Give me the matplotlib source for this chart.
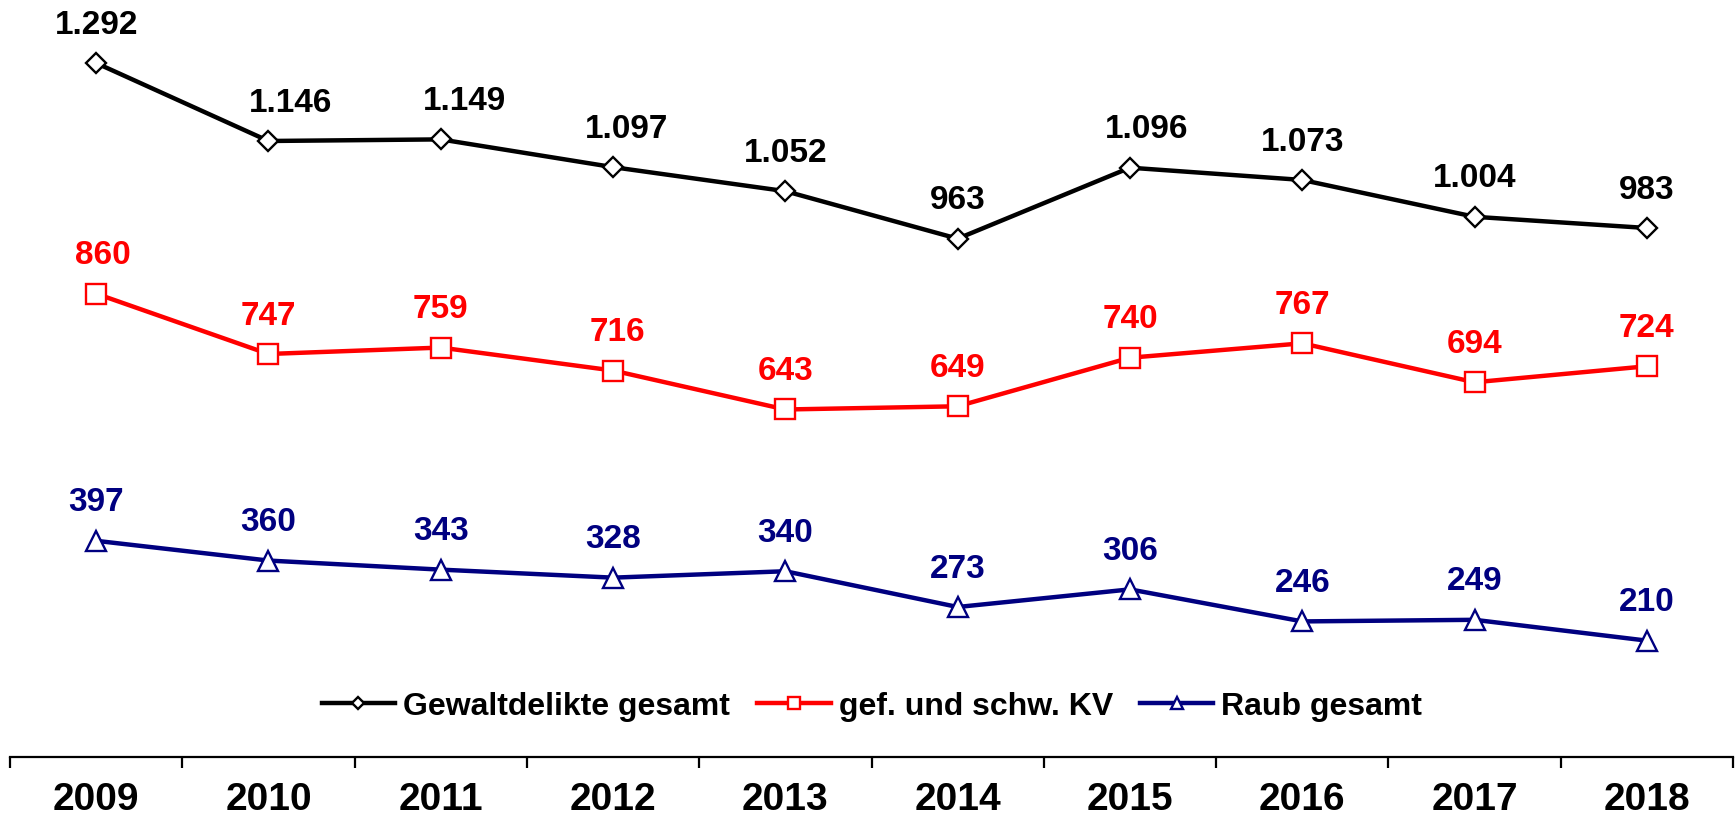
import matplotlib
matplotlib.use('Agg')
import matplotlib.pyplot as plt

plt.rcParams['font.family'] = ['Liberation Sans', 'DejaVu Sans']
plt.rcParams['font.weight'] = 'bold'

# Daten
jahre = ['2009', '2010', '2011', '2012', '2013', '2014', '2015', '2016', '2017', '2018']
gewalt = [1292, 1146, 1149, 1097, 1052, 963, 1096, 1073, 1004, 983]
kv = [860, 747, 759, 716, 643, 649, 740, 767, 694, 724]
raub = [397, 360, 343, 328, 340, 273, 306, 246, 249, 210]

# horizontale Verschiebung einzelner Beschriftungen (pt)
dx_gewalt = [0, 16, 17, 10, 0, 0, 12, 0, 0, 0]
dx_kv = [5, 0, 0, 3, 0, 0, 0, 0, 0, 0]
dx_raub = [0, 0, 0, 0, 0, 0, 0, 0, 0, 0]


def fmt(v):
    # deutsches Tausendertrennzeichen
    return f'{v:,}'.replace(',', '.')


fig = plt.figure(figsize=(17.36, 8.2), dpi=100)
ax = fig.add_axes([10 / 1736, 62 / 820, 1723 / 1736, 758 / 820])

x = list(range(len(jahre)))
reihen = [
    (gewalt, 'Gewaltdelikte gesamt', 'black', 'D', 10.5, dx_gewalt),
    (kv, 'gef. und schw. KV', '#ff0000', 's', 14.5, dx_kv),
    (raub, 'Raub gesamt', '#000080', '^', 15, dx_raub),
]

for werte, name, farbe, marker, ms, dxs in reihen:
    ax.plot(x, werte, color=farbe, linewidth=3.2, marker=marker, markersize=ms,
            markerfacecolor='white', markeredgecolor=farbe, markeredgewidth=1.7,
            label=name)
    for xi, v, dx in zip(x, werte, dxs):
        ax.annotate(fmt(v), (xi, v), xytext=(dx, 28), textcoords='offset points',
                    ha='center', va='center', fontsize=24, fontweight='bold',
                    color=farbe)

ax.set_xlim(-0.5, len(jahre) - 0.5)
ax.set_ylim(-8, 1412)

for s in ['top', 'left', 'right']:
    ax.spines[s].set_visible(False)
ax.spines['bottom'].set_linewidth(1.6)
ax.set_yticks([])

ax.set_xticks(x)
ax.set_xticklabels(jahre, fontsize=28, fontweight='bold')
ax.tick_params(axis='x', which='major', length=0, pad=17)
ax.set_xticks([i - 0.5 for i in range(len(jahre) + 1)], minor=True)
ax.tick_params(axis='x', which='minor', length=8, width=1.6, direction='out')

leg = ax.legend(loc='center', bbox_to_anchor=(862 / 1723, (758 - 707) / 758),
                ncol=3, frameon=False, fontsize=23, markerscale=0.6,
                handlelength=2.3, handletextpad=0.25, columnspacing=0.85,
                borderpad=0, borderaxespad=0)

fig.savefig('out.png', dpi=100)
plt.close(fig)
